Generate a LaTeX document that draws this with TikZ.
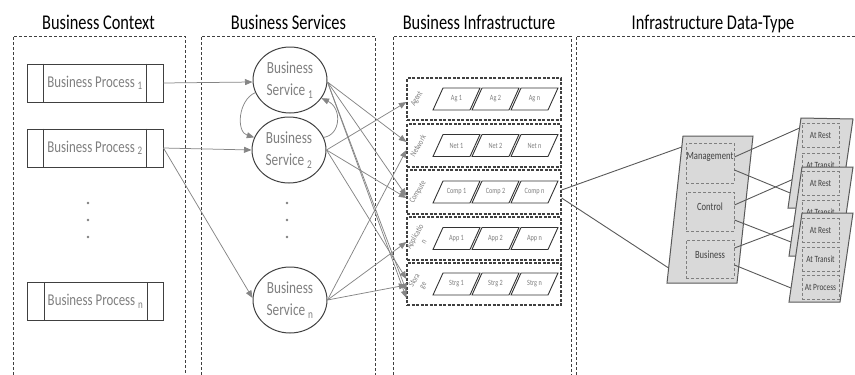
\documentclass[tikz,border=0pt]{standalone}
\usepackage{fontspec}
\setmainfont{Carlito}[FakeStretch=0.78]
\usetikzlibrary{arrows.meta,shapes.geometric}
\definecolor{edge}{HTML}{404040}
\definecolor{lnk}{HTML}{858585}
\definecolor{txtgray}{HTML}{7F7F7F}
\definecolor{panel}{HTML}{D9D9D9}
\definecolor{dkline}{HTML}{595959}
\newcommand{\idx}[1]{\,\textsubscript{#1}}
\begin{document}
\begin{tikzpicture}[x=1pt,y=-1pt,
  title/.style={font=\fontsize{21}{24}\selectfont, anchor=base, text=black},
  colframe/.style={draw=edge, line width=0.8pt, dash pattern=on 3pt off 2pt},
  procbox/.style={draw=edge, line width=0.9pt, minimum width=136pt, minimum height=38pt,
    inner sep=0pt, font=\fontsize{16.5}{18}\selectfont, text=txtgray},
  svc/.style={ellipse, draw=edge, line width=1pt, minimum width=74pt, minimum height=66pt,
    inner sep=0pt, align=center, font=\fontsize{17}{22}\selectfont, text=txtgray},
  dot/.style={circle, fill=txtgray, inner sep=0pt, minimum size=2.8pt},
  link/.style={draw=lnk, line width=0.75pt, -{Triangle[length=7.5pt,width=6pt]}},
  row/.style={draw=edge, line width=1.2pt, dash pattern=on 3pt off 1.5pt,
    minimum width=154pt, inner sep=0pt},
  para/.style={draw=black!80, line width=0.9pt, fill=white},
  paratext/.style={font=\fontsize{8}{9}\selectfont, text=txtgray},
  rowlabel/.style={font=\fontsize{8.5}{10}\selectfont, text=txtgray, rotate=60, align=center, inner sep=0pt},
  sheet/.style={draw=dkline, line width=1pt, fill=panel},
  dtbox/.style={draw=txtgray, line width=0.9pt, dash pattern=on 3pt off 2pt,
    minimum width=48pt, inner sep=0pt},
  dttext/.style={font=\fontsize{11}{12}\selectfont, text=edge, inner sep=0pt},
  kindbox/.style={draw=txtgray, line width=0.9pt, dash pattern=on 3pt off 2pt,
    minimum width=37pt, minimum height=24pt, inner sep=0pt,
    font=\fontsize{9.5}{10}\selectfont, text=edge},
  plain/.style={draw=dkline, line width=0.9pt}]

\useasboundingbox (0,0) rectangle (855,375);

% column headings
\node[title] (t1) at (98.5,29) {Business Context};
\node[title] (t2) at (288.5,29) {Business Services};
\node[title] (t3) at (479,29) {Business Infrastructure};
\node[title] (t4) at (713,29) {Infrastructure Data-Type};

% column frames (open at the bottom)
\draw[colframe] (13,375) -- (13,36) -- (185,36) -- (185,375);
\draw[colframe] (201,375) -- (201,36) -- (375,36) -- (375,375);
\draw[colframe] (393,375) -- (393,36) -- (571,36) -- (571,375);
\draw[colframe] (576,375) -- (576,36) -- (855,36);

% business processes
\node[procbox] (bp1) at (95,83) {Business Process\idx{1}};
\node[procbox] (bp2) at (95,148) {Business Process\idx{2}};
\node[procbox] (bpn) at (95.5,301.5) {Business Process\idx{n}};
\foreach \b in {bp1,bp2,bpn}{
  \draw[draw=edge, line width=0.9pt] ([xshift=17pt]\b.north west) -- ([xshift=17pt]\b.south west);
  \draw[draw=edge, line width=0.9pt] ([xshift=-17pt]\b.north east) -- ([xshift=-17pt]\b.south east);
}
\node[dot] (pd1) at (88,203) {};
\node[dot] (pd2) at (88,220) {};
\node[dot] (pd3) at (88,237) {};

% business services
\node[svc] (s1) at (290,80) {Business\\Service\idx{1}};
\node[svc] (s2) at (289,150) {Business\\Service\idx{2}};
\node[svc] (sn) at (290,300) {Business\\Service\idx{n}};
\node[dot] (sd1) at (287,203) {};
\node[dot] (sd2) at (287,220) {};
\node[dot] (sd3) at (287,237) {};

% infrastructure layers
\node[row, minimum height=42pt] (agent) at (484,99) {};
\node[row, minimum height=43pt] (network) at (484,145.5) {};
\node[row, minimum height=44pt] (compute) at (484,192) {};
\node[row, minimum height=43pt] (app) at (484,238.5) {};
\node[row, minimum height=42pt] (storage) at (484,284) {};

\node[rowlabel] (lag) at (417,99) {Agent};
\node[rowlabel] (lnet) at (418,146) {Network};
\node[rowlabel] (lcomp) at (418,192) {Compute};
\node[rowlabel] (lapp) at (419,239) {Applicatio\\n};
\node[rowlabel] (lstg) at (419,283) {Stora\\ge};

\foreach \r/\yc/\lab in {ag/99/Ag, net/145.5/Net, comp/192/Comp, app/238.5/App, stg/284/Strg}{
  \foreach \i/\xc/\t in {1/456.5/1, 2/495.5/2, 3/534.5/n}{
    \draw[para] (\xc-13.5,\yc-11) -- (\xc+23.5,\yc-11) -- (\xc+13.5,\yc+11) -- (\xc-23.5,\yc+11) -- cycle;
    \node[paratext] (\r\i) at (\xc,\yc) {\lab\ \t};
  }
}

% process -> service
\draw[link] (bp1.east) -- ([yshift=-2pt]s1.west);
\draw[link] (bp2.east) -- (s2.west);
\draw[link] (bp2.east) -- ([yshift=2pt]sn.west);

% service <-> service
\draw[link] (s1.200) .. controls (238,100) and (236,132) .. (s2.160);
\draw[link] (s2.20) .. controls (341,135) and (342,108) .. (s1.-30);

% service -> infrastructure
\draw[link] ([yshift=-2pt]s1.east) -- ([yshift=3.5pt]network.west);
\draw[link] ([yshift=-2pt]s1.east) -- ([yshift=-4pt]compute.west);
\draw[link] ([yshift=-2pt]s1.east) -- ([yshift=-7pt]storage.west);
\draw[link] ([yshift=-2pt]s1.east) -- ([yshift=-14pt]storage.west);
\draw[link] (s2.east) -- ([yshift=-3pt]agent.west);
\draw[link] (s2.east) -- ([yshift=-6pt]compute.west);
\draw[link] (s2.east) -- ([yshift=5pt]storage.west);
\draw[link] (sn.east) -- ([yshift=-4.5pt]network.west);
\draw[link] (sn.east) -- ([yshift=-3.5pt]app.west);
\draw[link] (sn.east) -- ([yshift=-1pt]storage.west);

% data-type sheet
\draw[sheet] (683,136) -- (753,136) -- (737,283) -- (667,283) -- cycle;
\coordinate (dtA) at (681.8,147);
\coordinate (dtB) at (668.6,268);
\draw[plain] ([yshift=2pt]compute.east) -- (dtA);
\draw[plain] ([yshift=-6pt]compute.east) -- (dtB);

\node[dtbox, minimum height=40pt] (mgmt) at (710,163) {};
\node[dtbox, minimum height=39pt] (ctrl) at (710,211.5) {};
\node[dtbox, minimum height=38pt] (bus) at (710,259) {};
\node[dttext] (mgmtt) at ([yshift=6pt]mgmt.center) {Management};
\node[dttext] (ctrlt) at ([yshift=4.5pt]ctrl.center) {Control};
\node[dttext] (bust) at ([yshift=4pt]bus.center) {Business};

% plane -> data state sheets
\coordinate (k1a) at (799.6,128);
\coordinate (k1b) at (790.2,193);
\coordinate (k2a) at (800.5,176);
\coordinate (k2b) at (791,242);
\coordinate (k3a) at (800.5,223);
\coordinate (k3b) at (791,288);
\draw[plain] ([yshift=6pt]mgmt.east) -- (k1a);
\draw[plain] ([yshift=-7pt]mgmt.east) -- (k1b);
\draw[plain] ([yshift=6.5pt]ctrl.east) -- (k2a);
\draw[plain] ([yshift=-8.5pt]ctrl.east) -- (k2b);
\draw[plain] ([yshift=11pt]bus.east) -- (k3a);
\draw[plain] ([yshift=-6pt]bus.east) -- (k3b);

% data state sheets, stacked
\draw[sheet] (801,118) -- (853,119) -- (840,208) -- (788,208) -- cycle;
\node[kindbox] (r1) at (820.5,135) {At Rest};
\node[kindbox] (tr1) at (820.5,165) {At Transit};

\draw[sheet] (802,167) -- (853,167) -- (840,256) -- (789,256) -- cycle;
\node[kindbox] (r2) at (820.5,183.5) {At Rest};
\node[kindbox] (tr2) at (820.5,212) {At Transit};

\draw[sheet] (802,213) -- (853,213) -- (840,302) -- (789,302) -- cycle;
\node[kindbox] (r3) at (820.5,230.5) {At Rest};
\node[kindbox] (tr3) at (820.5,259) {At Transit};
\node[kindbox] (pr3) at (820.5,287.5) {At Process};
\end{tikzpicture}
\end{document}
